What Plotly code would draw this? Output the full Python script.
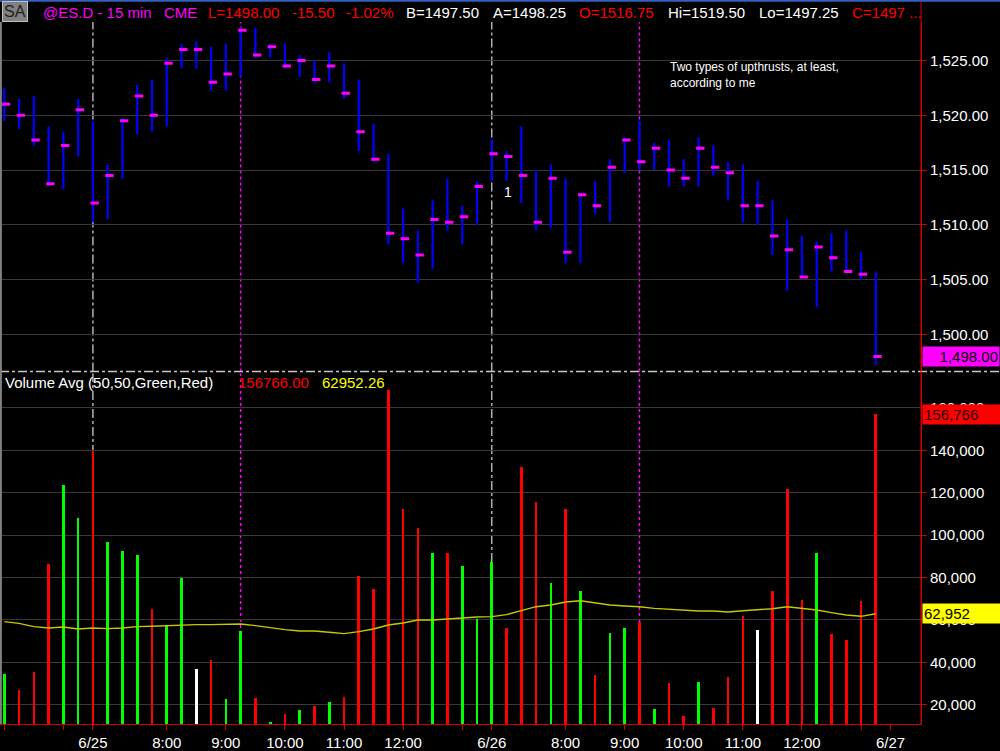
import plotly.graph_objects as go

# ---------------- data ----------------
highs = [1522.5, 1521.5, 1521.75, 1519.0, 1518.5, 1521.5, 1519.5, 1515.5, 1519.75, 1522.75,
         1523.25, 1525.25, 1526.5, 1526.75, 1526.25, 1526.5, 1528.0, 1528.0, 1526.5, 1526.5,
         1525.5, 1525.0, 1525.75, 1524.75, 1523.25, 1519.25, 1516.5, 1511.5, 1509.5, 1512.25,
         1514.25, 1511.75, 1514.0, 1517.75, 1516.75, 1519.0, 1515.0, 1515.5, 1514.25, 1512.75,
         1514.0, 1516.0, 1518.0, 1519.5, 1517.5, 1517.75, 1516.0, 1518.0, 1517.25, 1515.75,
         1515.5, 1514.0, 1512.25, 1510.5, 1509.0, 1508.5, 1509.25, 1509.5, 1507.5, 1505.75]
lows = [1519.5, 1518.75, 1517.25, 1513.5, 1513.25, 1516.25, 1510.25, 1510.5, 1514.25, 1518.25,
        1518.5, 1519.0, 1524.25, 1524.25, 1522.25, 1522.25, 1523.5, 1525.25, 1525.25, 1524.25,
        1523.5, 1523.0, 1523.0, 1521.5, 1516.75, 1515.75, 1508.25, 1506.5, 1504.75, 1506.0,
        1509.5, 1508.25, 1510.0, 1514.0, 1514.0, 1512.0, 1509.5, 1509.75, 1506.5, 1506.5,
        1511.0, 1510.25, 1514.75, 1515.0, 1515.0, 1513.5, 1513.5, 1513.5, 1514.5, 1512.25,
        1510.25, 1510.0, 1507.25, 1504.0, 1505.25, 1502.5, 1505.75, 1505.75, 1505.0, 1497.25]
closes = [1521.0, 1520.0, 1517.75, 1513.75, 1517.25, 1520.5, 1512.0, 1514.5, 1519.5, 1521.75,
          1520.0, 1524.75, 1526.0, 1526.0, 1523.0, 1523.75, 1527.75, 1525.5, 1526.25, 1524.5,
          1525.0, 1523.25, 1524.5, 1522.0, 1518.5, 1516.0, 1509.25, 1508.75, 1507.25, 1510.5,
          1510.25, 1510.75, 1513.5, 1516.5, 1516.25, 1514.5, 1510.25, 1514.25, 1507.5, 1512.75,
          1511.75, 1515.25, 1517.75, 1515.75, 1517.0, 1515.0, 1514.25, 1517.0, 1515.25, 1514.75,
          1511.75, 1511.75, 1509.0, 1507.75, 1505.25, 1508.0, 1507.0, 1505.75, 1505.5, 1498.0]
volumes = [34250, 26870, 35340, 86030, 123210, 107680, 139220, 96380, 92460, 90260,
           64840, 57310, 79440, 36600, 40840, 22330, 54330, 23120, 11500, 15580,
           17460, 19340, 21220, 23580, 80530, 74420, 168000, 112070, 103130, 91360,
           91360, 85240, 60140, 87120, 55900, 131840, 115370, 77240, 112070, 73320,
           33620, 53700, 55900, 58570, 17770, 30170, 14640, 30490, 18400, 32990,
           61710, 54800, 73320, 121490, 69400, 91360, 53230, 50250, 68770, 156766]
vol_avg = [59200, 58410, 56840, 56220, 56690, 55750, 56220, 55900, 56220, 56840,
           57000, 57310, 57780, 57780, 57780, 57780, 58100, 57310, 56220, 55430,
           54800, 54800, 54170, 53550, 54490, 55750, 57630, 58570, 59980, 59980,
           60450, 61080, 61390, 61550, 62490, 64370, 66250, 67040, 68450, 69080,
           67980, 67040, 66570, 66250, 65470, 65000, 64680, 64210, 64210, 63740,
           64370, 64680, 65310, 66250, 65470, 64680, 63430, 62330, 61710, 62952]

x_tick_bars = [0, 4, 6, 11, 15, 19, 23, 27, 31, 33, 38, 42, 46, 50, 54, 58, 60]
x_tick_text = ["", "", "6/25", "8:00", "9:00", "10:00", "11:00", "12:00", "",
               "6/26", "8:00", "9:00", "10:00", "11:00", "12:00", "", "6/27"]
price_ticks = [1500, 1505, 1510, 1515, 1520, 1525]
volume_ticks = [20000, 40000, 60000, 80000, 100000, 120000, 140000, 160000]
session_start_bars = [6, 33]
marker_bars = [16, 43]
last_price = 1498.00
last_volume = 156766
last_avg = 62952

# ---------------- derived ----------------
idx = list(range(len(closes)))
vol_colors = []
for i, c in enumerate(closes):
    if i == 0 or c > closes[i - 1]:
        vol_colors.append("#00ff00")
    elif c < closes[i - 1]:
        vol_colors.append("#ff0000")
    else:
        vol_colors.append("#ffffff")

bx, by = [], []
for i, (h, l) in enumerate(zip(highs, lows)):
    bx += [i, i, None]
    by += [l, h, None]

FONT = "Arial, Liberation Sans, sans-serif"
fig = go.Figure()
fig.add_trace(go.Bar(x=idx, y=volumes, width=0.18, marker=dict(color=vol_colors, line=dict(width=0)),
                     xaxis="x", yaxis="y2"))
fig.add_trace(go.Scatter(x=idx, y=vol_avg, mode="lines", line=dict(color="#c8c800", width=1.4),
                         xaxis="x", yaxis="y2"))
fig.add_trace(go.Scatter(x=bx, y=by, mode="lines", line=dict(color="#0000ff", width=2.2),
                         xaxis="x", yaxis="y", connectgaps=False))
fig.add_trace(go.Scatter(x=[i + 0.12 for i in idx], y=closes, mode="markers",
                         marker=dict(symbol="line-ew", size=6, line=dict(color="#ff00ff", width=3)),
                         xaxis="x", yaxis="y"))

PLOT_H = 751 - 22 - 24
TOP = 1 + 22 / PLOT_H

def py(pix):
    return (727 - pix) / PLOT_H

def px(pix):
    return pix / 921

shapes = []
for b in session_start_bars:
    for yr in ["y domain", "y2 domain"]:
        shapes.append(dict(type="line", xref="x", yref=yr, x0=b, x1=b, y0=0, y1=1, layer="below",
                           line=dict(color="#b0b0b0", width=1.5, dash="dashdot")))
for b in marker_bars:
    for yr in ["y domain", "y2 domain"]:
        shapes.append(dict(type="line", xref="x", yref=yr, x0=b, x1=b, y0=0, y1=1, layer="below",
                           line=dict(color="#ff00ff", width=1.5, dash="dot")))
shapes.append(dict(type="line", xref="paper", yref="paper", x0=0, x1=1000 / 921, y0=py(373), y1=py(373),
                   line=dict(color="#c8c8c8", width=1.5, dash="dashdot")))
shapes.append(dict(type="line", xref="paper", yref="paper", x0=1, x1=1, y0=0, y1=TOP,
                   line=dict(color="#d00000", width=1)))
shapes.append(dict(type="line", xref="paper", yref="paper", x0=0.001, x1=0.001, y0=0, y1=py(22),
                   line=dict(color="#808080", width=2)))
shapes.append(dict(type="line", xref="paper", yref="paper", x0=0, x1=1000 / 921, y0=TOP - 0.0008, y1=TOP - 0.0008,
                   line=dict(color="#3060c0", width=2)))

ann = []
def text(x, y, t, color, size=15, **kw):
    d = dict(xref="paper", yref="paper", x=px(x), y=py(y), text=t, showarrow=False,
             xanchor="left", yanchor="middle", font=dict(color=color, size=size, family=FONT))
    d.update(kw)
    ann.append(d)

text(2, 11, "SA", "#202020", size=16, bgcolor="#808080", bordercolor="#c0c0c0", borderwidth=1, borderpad=1)
text(41, 12, "@ES.D - 15 min", "#ff00ff")
text(162, 12, "CME", "#ff00ff")
text(206, 12, "L=1498.00", "#ff0000")
text(290, 12, "-15.50", "#ff0000")
text(344, 12, "-1.02%", "#ff0000")
text(404, 12, "B=1497.50", "#ffffff")
text(491, 12, "A=1498.25", "#ffffff")
text(577, 12, "O=1516.75", "#ff0000")
text(666, 12, "Hi=1519.50", "#ffffff")
text(757, 12, "Lo=1497.25", "#ffffff")
text(850, 12, "C=1497 ...", "#ff0000")
text(3, 384, "Volume Avg (50,50,Green,Red)", "#ffffff")
text(236, 384, "156766.00", "#ff0000")
text(320, 384, "62952.26", "#ffff00")
text(668, 75, "Two types of upthrusts, at least,<br>according to me", "#ffffff", size=12, align="left")
text(502, 193, "1", "#ffffff", size=14)

ann.append(dict(xref="paper", yref="y", x=1, y=last_price, text=f"{last_price:,.2f}", showarrow=False,
                xanchor="left", yanchor="middle", xshift=1, width=74, align="right", bgcolor="#ff00ff",
                borderpad=1, font=dict(color="#000000", size=15, family=FONT)))
ann.append(dict(xref="paper", yref="y2", x=1, y=last_volume, text=f"{last_volume:,}", showarrow=False,
                xanchor="left", yanchor="middle", xshift=1, width=76, align="left", bgcolor="#ff0000",
                borderpad=1, font=dict(color="#200000", size=15, family=FONT)))
ann.append(dict(xref="paper", yref="y2", x=1, y=last_avg, text=f"{last_avg:,}", showarrow=False,
                xanchor="left", yanchor="middle", xshift=1, width=76, align="left", bgcolor="#ffff00",
                borderpad=1, font=dict(color="#000000", size=15, family=FONT)))

axis_common = dict(showline=True, linecolor="#d00000", linewidth=1, ticks="outside", tickcolor="#d00000",
                   ticklen=5, tickfont=dict(color="#ffffff", size=15, family=FONT), zeroline=False)

fig.update_layout(
    width=1000, height=751, margin=dict(l=0, r=79, t=22, b=24),
    paper_bgcolor="#000000", plot_bgcolor="#000000", showlegend=False,
    xaxis=dict(domain=[0, 1], anchor="y2", range=[-0.29, 62.06], tickmode="array",
               tickvals=x_tick_bars, ticktext=x_tick_text, showgrid=False, **axis_common),
    yaxis=dict(domain=[py(373), 1], anchor="x", side="right", range=[1496.64, 1528.5],
               tickmode="array", tickvals=price_ticks, tickformat=",.2f",
               showgrid=True, gridcolor="#383838", gridwidth=1, **axis_common),
    yaxis2=dict(domain=[0, py(375)], anchor="x", side="right", range=[10939, 176200],
                tickmode="array", tickvals=volume_ticks, tickformat=",d",
                showgrid=True, gridcolor="#383838", gridwidth=1, **axis_common),
    shapes=shapes, annotations=ann, bargap=0,
)

fig.write_html("out.html", config={"displayModeBar": False},
               post_script="document.body.style.margin='0';document.body.style.background='#000';")
